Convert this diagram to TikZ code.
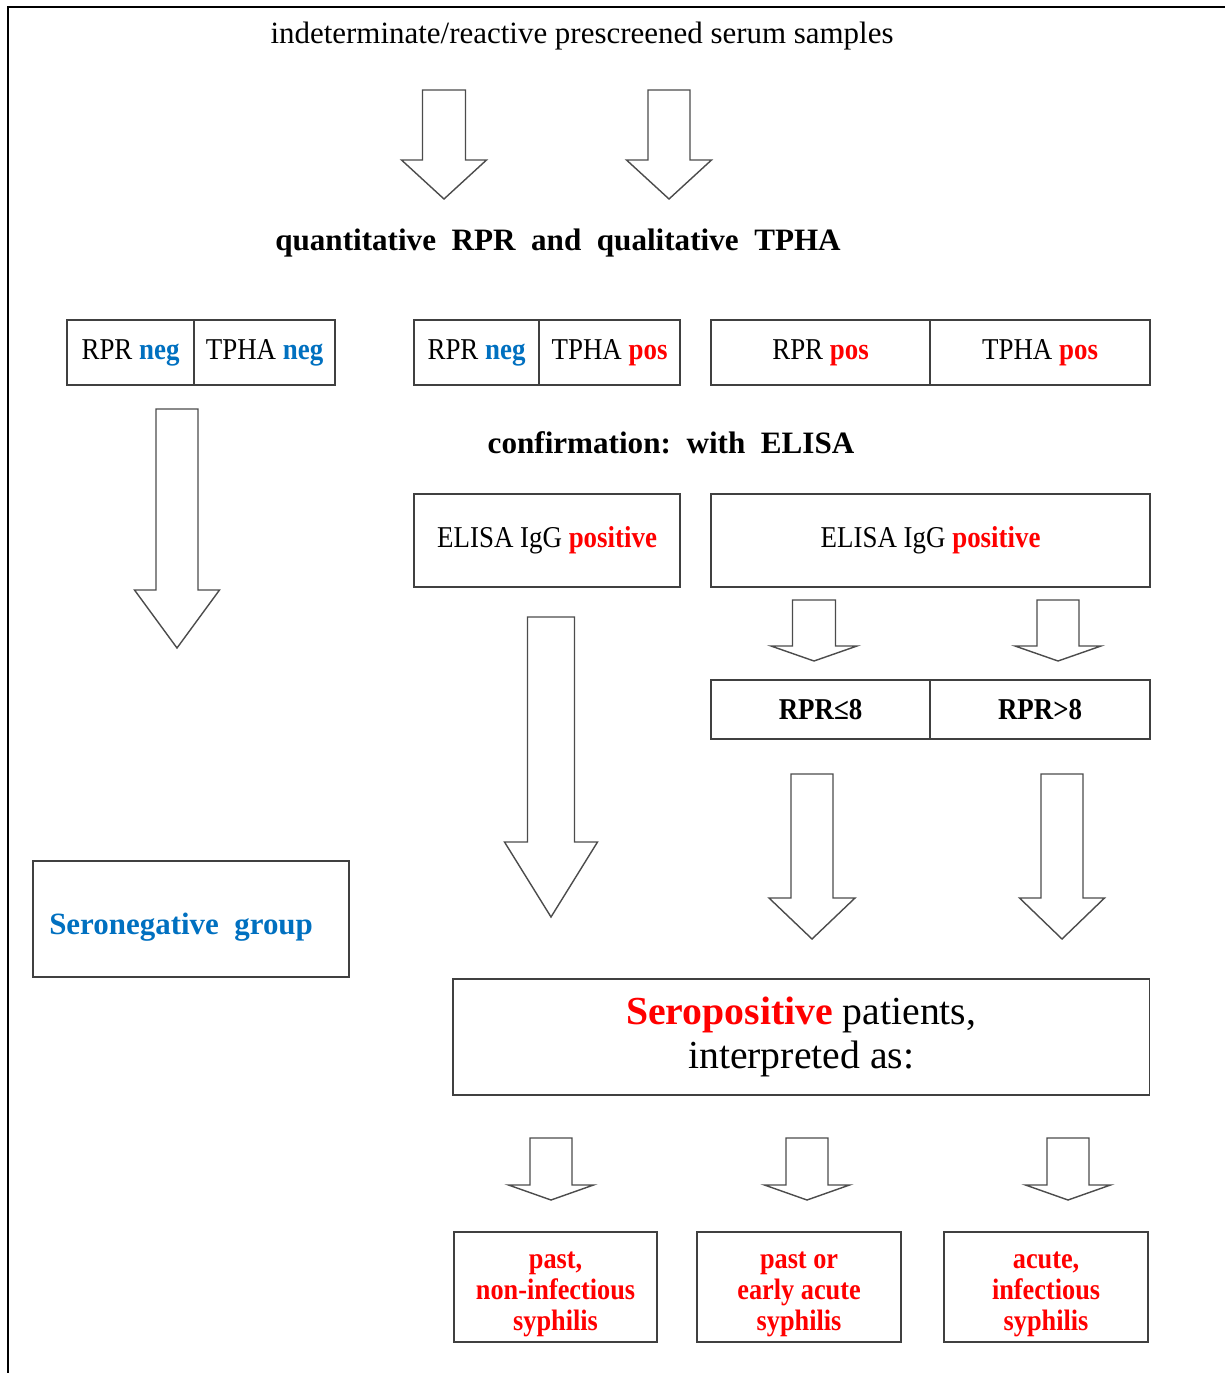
\documentclass[tikz,border=0pt]{standalone}
\usepackage{fontspec}
\setmainfont{Liberation Serif}
\newfontfamily\narrowfont{Liberation Serif}[FakeStretch=0.89]
\definecolor{negblue}{RGB}{0,112,192}
\definecolor{posred}{RGB}{255,0,0}

% hollow down arrow: centre x, top y, neck y, tip y, half shaft, half head
\newcommand{\blockarrow}[6]{%
  \draw[arrowline] ({#1-#5},#2) -- ({#1+#5},#2) -- ({#1+#5},#3) -- ({#1+#6},#3)
    -- (#1,#4) -- ({#1-#6},#3) -- ({#1-#5},#3) -- cycle;}

\begin{document}
\begin{tikzpicture}[
        x=0.01cm, y=-0.01cm,
        box/.style={draw=black!75, line width=0.45pt, anchor=north west,
            inner sep=0pt, outer sep=0pt,
            font=\narrowfont\fontsize{8.6}{10}\selectfont},
        outcome/.style={box, align=center, text=posred,
            font=\narrowfont\bfseries\fontsize{8.4}{8.9}\selectfont},
        arrowline/.style={draw=black!70, line width=0.4pt, fill=white},
        heading/.style={font=\bfseries\fontsize{8.85}{10}\selectfont}
    ]
    \useasboundingbox (0,0) rectangle (1225,1373);
    \draw[line width=0.6pt] (8,1373) -- (8,7) -- (1225,7);

    \node[font=\fontsize{8.8}{10}\selectfont] (title) at (582,36) {indeterminate/reactive prescreened serum samples};
    \blockarrow{444}{90}{160}{199}{21.5}{42.5}
    \blockarrow{669}{90}{160}{199}{21}{42.5}
    \node[heading] (tests) at (558,243) {quantitative\ \ RPR\ \ and\ \ qualitative\ \ TPHA};

    % screening results
    \node[box, minimum width=1.27cm, minimum height=0.65cm] (rprA) at (67,320) {RPR \textcolor{negblue}{\bfseries neg}};
    \node[box, minimum width=1.41cm, minimum height=0.65cm] (tphaA) at (194,320) {TPHA \textcolor{negblue}{\bfseries neg}};
    \node[box, minimum width=1.25cm, minimum height=0.65cm] (rprB) at (414,320) {RPR \textcolor{negblue}{\bfseries neg}};
    \node[box, minimum width=1.41cm, minimum height=0.65cm] (tphaB) at (539,320) {TPHA \textcolor{posred}{\bfseries pos}};
    \node[box, minimum width=2.19cm, minimum height=0.65cm] (rprC) at (711,320) {RPR \textcolor{posred}{\bfseries pos}};
    \node[box, minimum width=2.20cm, minimum height=0.65cm] (tphaC) at (930,320) {TPHA \textcolor{posred}{\bfseries pos}};

    \node[heading] (confirm) at (671,443) {confirmation:\ \ with\ \ ELISA};
    \node[box, minimum width=2.66cm, minimum height=0.93cm] (elisaB) at (414,494) {ELISA IgG \textcolor{posred}{\bfseries positive}};
    \node[box, minimum width=4.39cm, minimum height=0.93cm] (elisaC) at (711,494) {ELISA IgG \textcolor{posred}{\bfseries positive}};

    \blockarrow{177}{409}{590}{648}{21}{42.5}
    \blockarrow{814}{600}{646}{661}{21.5}{43}
    \blockarrow{1058}{600}{646}{661}{21}{43}

    \node[box, minimum width=2.19cm, minimum height=0.59cm, font=\narrowfont\bfseries\fontsize{8.6}{10}\selectfont] (low) at (711,680) {RPR≤8};
    \node[box, minimum width=2.20cm, minimum height=0.59cm, font=\narrowfont\bfseries\fontsize{8.6}{10}\selectfont] (high) at (930,680) {RPR>8};

    \blockarrow{551}{617}{842}{917}{23.5}{46.5}
    \blockarrow{812}{774}{898}{939}{21}{43}
    \blockarrow{1062}{774}{898}{939}{21}{42.5}

    \node[box, minimum width=3.16cm, minimum height=1.16cm, text=negblue,
        text height=11pt, text depth=2pt,
        font=\bfseries\fontsize{8.8}{10}\selectfont] (seroneg) at (33,861) {Seronegative\ \ group\kern0.2cm};
    \node[box, minimum width=6.96cm, minimum height=1.16cm, align=center,
        font=\fontsize{11.3}{12.6}\selectfont] (seropos) at (453,979)
        {\textcolor{posred}{\bfseries Seropositive} patients,\\interpreted as:};

    \blockarrow{551}{1138}{1185}{1200}{21}{42.5}
    \blockarrow{807}{1138}{1185}{1200}{21}{42.5}
    \blockarrow{1068}{1138}{1185}{1200}{21}{42.5}

    \node[outcome, minimum width=2.03cm, minimum height=1.10cm] (past) at (454,1232) {\rule{0pt}{9pt}past,\\non-infectious\\syphilis};
    \node[outcome, minimum width=2.04cm, minimum height=1.10cm] (early) at (697,1232) {\rule{0pt}{9pt}past or\\early acute\\syphilis};
    \node[outcome, minimum width=2.04cm, minimum height=1.10cm] (acute) at (944,1232) {\rule{0pt}{9pt}acute,\\infectious\\syphilis};
\end{tikzpicture}
\end{document}
